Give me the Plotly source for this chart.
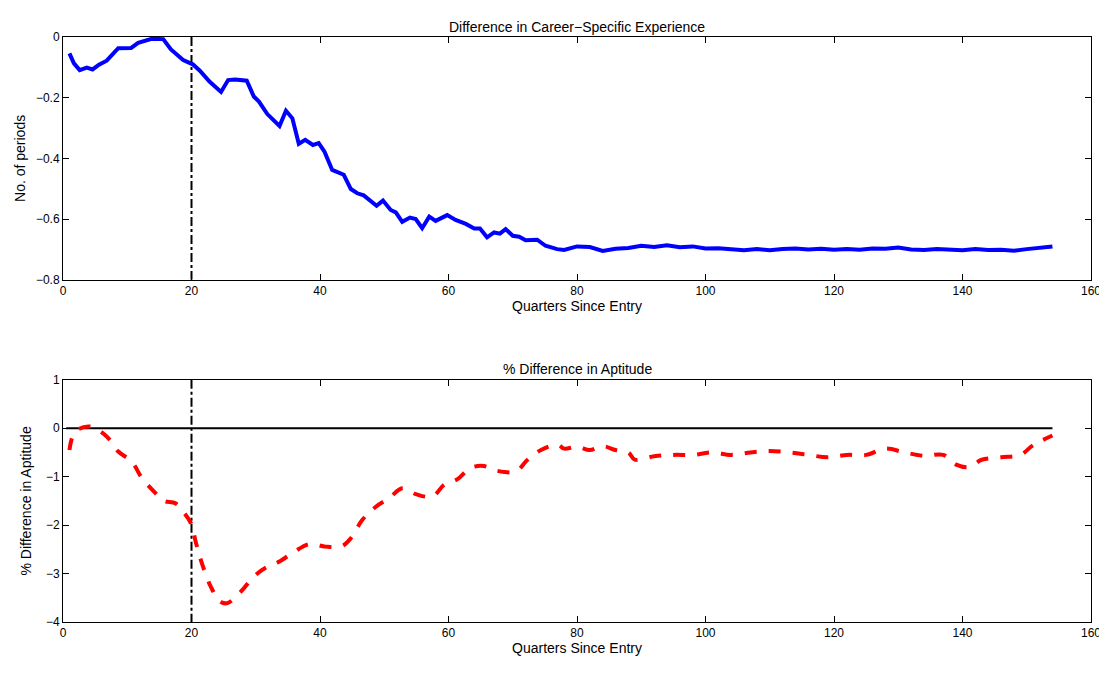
import plotly.graph_objects as go
from plotly.subplots import make_subplots

# top panel: difference in career-specific experience
exp_q = [1, 1.7, 2.6, 3.7, 4.6, 5.6, 6.8, 8.6, 10.6, 11.7, 13.8, 15.6, 16.8, 18.7, 20.2, 21.3,
         22.8, 24.6, 25.7, 26.8, 28.6, 29.7, 30.5, 31.8, 33.7, 34.7, 35.7, 36.7, 37.7, 38.9,
         39.8, 40.7, 41.9, 43.7, 44.8, 45.8, 46.8, 48.8, 49.8, 51, 51.8, 52.8, 54, 54.9, 55.9,
         57, 58, 59.8, 61.1, 62.7, 64, 64.9, 66, 67.1, 68, 68.9, 70, 71, 72, 73.8, 75.1, 76.9,
         78, 80, 82, 84, 86, 88, 90, 92, 94, 96, 98, 100, 102, 104, 106, 108, 110, 112, 114,
         116, 118, 120, 122, 124, 126, 128, 130, 132, 134, 136, 138, 140, 142, 144, 146, 148,
         150, 152, 154]
exp_diff = [-0.054, -0.087, -0.109, -0.101, -0.107, -0.091, -0.078, -0.037, -0.036, -0.019,
            -0.006, -0.007, -0.041, -0.076, -0.090, -0.111, -0.147, -0.181, -0.142, -0.140,
            -0.144, -0.196, -0.213, -0.254, -0.293, -0.243, -0.268, -0.352, -0.339, -0.356,
            -0.350, -0.378, -0.438, -0.454, -0.501, -0.515, -0.522, -0.556, -0.539, -0.570,
            -0.578, -0.609, -0.595, -0.600, -0.630, -0.592, -0.606, -0.587, -0.603, -0.616,
            -0.631, -0.631, -0.660, -0.644, -0.648, -0.633, -0.655, -0.658, -0.670, -0.668,
            -0.688, -0.699, -0.702, -0.690, -0.692, -0.705, -0.698, -0.695, -0.688, -0.692,
            -0.686, -0.693, -0.690, -0.697, -0.696, -0.700, -0.703, -0.699, -0.703, -0.699,
            -0.697, -0.700, -0.698, -0.701, -0.699, -0.701, -0.697, -0.698, -0.694, -0.700,
            -0.702, -0.699, -0.701, -0.703, -0.699, -0.702, -0.701, -0.704, -0.699, -0.696,
            -0.690]

# bottom panel: % difference in aptitude
apt_q = [1, 1.9, 4.2, 6.8, 8.6, 10.7, 12.3, 14.4, 15.7, 17.5, 18.7, 19.9, 20.7, 21.7, 23,
         24.5, 25.6, 27.7, 29.7, 31.8, 33.7, 36, 38.4, 40.7, 43.3, 44.8, 46.6, 48.7, 50.8,
         52.8, 54.9, 57.5, 59.3, 61.4, 63.4, 65.5, 67.6, 70.5, 72.3, 74.4, 77, 78, 80, 82, 84,
         86, 88, 89, 92, 95, 98, 101, 104, 107, 110, 113, 116, 119, 122, 125, 128, 131, 134,
         137, 139, 141, 143, 146, 149, 151, 154]
apt_diff = [-0.45, -0.07, 0.035, -0.17, -0.48, -0.69, -1.03, -1.34, -1.50, -1.55, -1.72,
            -1.96, -2.37, -2.82, -3.27, -3.58, -3.61, -3.37, -3.06, -2.86, -2.75, -2.55,
            -2.39, -2.44, -2.44, -2.27, -1.89, -1.62, -1.44, -1.24, -1.36, -1.41, -1.17,
            -1.05, -0.82, -0.78, -0.88, -0.89, -0.65, -0.45, -0.34, -0.42, -0.38, -0.45,
            -0.37, -0.45, -0.5, -0.65, -0.58, -0.55, -0.55, -0.5, -0.55, -0.5, -0.47, -0.5,
            -0.55, -0.6, -0.55, -0.55, -0.42, -0.5, -0.57, -0.55, -0.75, -0.8, -0.65, -0.6,
            -0.55, -0.35, -0.15]

entry_q = 20
FONT = "Liberation Sans, Arial, sans-serif"

fig = make_subplots(rows=2, cols=1, vertical_spacing=0.17,
                    subplot_titles=("Difference in Career\u2212Specific Experience",
                                    "% Difference in Aptitude"))

fig.add_trace(go.Scatter(x=[entry_q, entry_q], y=[0, -0.8], mode="lines",
                         line=dict(color="black", width=2, dash="dashdot")), row=1, col=1)
fig.add_trace(go.Scatter(x=exp_q, y=exp_diff, mode="lines",
                         line=dict(color="#0000ff", width=4)), row=1, col=1)

fig.add_trace(go.Scatter(x=[0.5, 154], y=[0, 0], mode="lines",
                         line=dict(color="black", width=2)), row=2, col=1)
fig.add_trace(go.Scatter(x=[entry_q, entry_q], y=[1, -4], mode="lines",
                         line=dict(color="black", width=2, dash="dashdot")), row=2, col=1)
fig.add_trace(go.Scatter(x=apt_q, y=apt_diff, mode="lines", line_shape="spline",
                         line=dict(color="#ff0000", width=4, dash="dash")), row=2, col=1)

axis_style = dict(showline=True, mirror="ticks", linecolor="black", linewidth=1,
                  ticks="inside", ticklen=6, tickcolor="black", showgrid=False,
                  zeroline=False, tickfont=dict(size=12, color="black"))
fig.update_xaxes(range=[0, 160], dtick=20, title_text="Quarters Since Entry",
                 title_font=dict(size=14), title_standoff=2, **axis_style)
fig.update_yaxes(range=[-0.8, 0], dtick=0.2, title_text="No. of periods",
                 title_font=dict(size=14), title_standoff=6, row=1, col=1, **axis_style)
fig.update_yaxes(range=[-4, 1], dtick=1, title_text="% Difference in Aptitude",
                 title_font=dict(size=14), title_standoff=10, row=2, col=1, **axis_style)
fig.update_annotations(font=dict(size=14, color="black"))

fig.update_layout(width=1107, height=677, showlegend=False, plot_bgcolor="white",
                  paper_bgcolor="white", font=dict(family=FONT, color="black"),
                  margin=dict(l=49, r=24, t=29, b=63))
fig.layout.yaxis.domain = [0.585, 1]
fig.layout.yaxis2.domain = [0, 0.414]

fig.write_html("out.html")
